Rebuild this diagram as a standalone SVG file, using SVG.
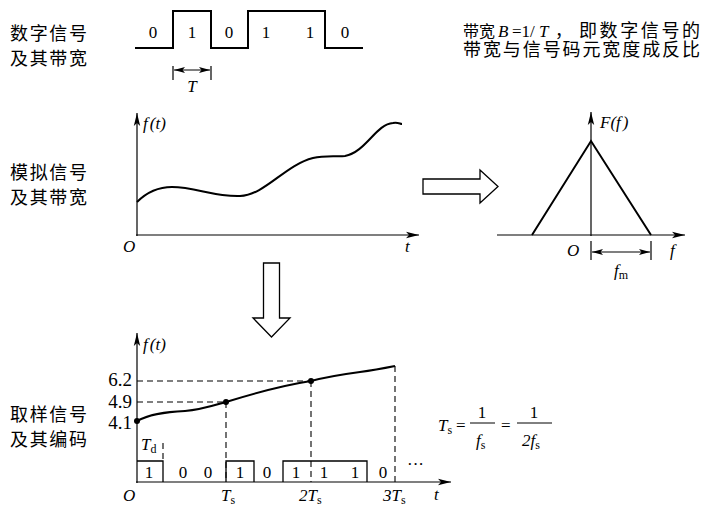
<svg xmlns="http://www.w3.org/2000/svg" width="703" height="507" viewBox="0 0 703 507">
<style>
.cjk{font-family:"Noto Sans CJK SC","Noto Sans",sans-serif;font-size:18px;fill:#000}
.rm{font-family:"Liberation Serif",serif;font-size:17px;fill:#000}
.it{font-family:"Liberation Serif",serif;font-size:17px;font-style:italic;fill:#000}
.sub{font-family:"Liberation Serif",serif;font-size:12px;font-style:normal}
.sig{fill:none;stroke:#000;stroke-width:2}
.ax{fill:none;stroke:#000;stroke-width:1.2}
.dash{fill:none;stroke:#000;stroke-width:1.1;stroke-dasharray:6,4}
.big{fill:#fff;stroke:#000;stroke-width:1.3}
</style>
<defs>
<marker id="ah" markerUnits="userSpaceOnUse" markerWidth="14" markerHeight="8" refX="13" refY="4" orient="auto">
<path d="M0,0.8 L13,4 L0,7.2 L3,4 z" fill="#000"/>
</marker>
<marker id="dh" markerUnits="userSpaceOnUse" markerWidth="12" markerHeight="8" refX="11" refY="4" orient="auto-start-reverse">
<path d="M0,1 L11,4 L0,7 L2.5,4 z" fill="#000"/>
</marker>
</defs>

<!-- Digital signal -->
<g id="digital">
<text class="cjk" x="10" y="40" textLength="77">数字信号</text>
<text class="cjk" x="10" y="65" textLength="77">及其带宽</text>
<path class="sig" d="M135,48 H173 V11 H211 V48 H248 V11 H325 V48 H363"/>
<text class="rm" x="153" y="38" text-anchor="middle">0</text>
<text class="rm" x="192" y="38" text-anchor="middle">1</text>
<text class="rm" x="229" y="38" text-anchor="middle">0</text>
<text class="rm" x="266" y="38" text-anchor="middle">1</text>
<text class="rm" x="310" y="38" text-anchor="middle">1</text>
<text class="rm" x="345" y="38" text-anchor="middle">0</text>
<path class="ax" d="M173,66 V80 M211,66 V80"/>
<line x1="174" y1="70" x2="210" y2="70" stroke="#000" stroke-width="1.2" marker-start="url(#dh)" marker-end="url(#dh)"/>
<text class="it" x="192" y="92" text-anchor="middle">T</text>
</g>

<g id="note">
<text class="cjk" x="463" y="37" style="font-size:16px">带宽</text>
<text class="it" x="498" y="37">B</text>
<text class="rm" x="512" y="37">=1/</text>
<text class="it" x="539" y="37">T</text>
<text class="cjk" x="555" y="37" style="font-size:17px">，</text>
<text class="cjk" x="579" y="37" textLength="121">即数字信号的</text>
<text class="cjk" x="463" y="56" textLength="237">带宽与信号码元宽度成反比</text>
</g>

<!-- Analog signal -->
<g id="analog">
<text class="cjk" x="10" y="179" textLength="77">模拟信号</text>
<text class="cjk" x="10" y="204" textLength="77">及其带宽</text>
<line class="ax" x1="137" y1="236" x2="137" y2="113" marker-end="url(#ah)"/>
<line class="ax" x1="136" y1="235" x2="419" y2="235" marker-end="url(#ah)"/>
<path class="sig" d="M137,202 C148,191 160,187 172,187 C195,187 215,197 240,196 C265,195 285,165 313,158 C326,155 338,157 345,156 C366,152 376,124 393,123 C398,122 400,124 402,124"/>
<text class="it" x="143" y="129">f<tspan class="rm" dx="2">(</tspan>t<tspan class="rm">)</tspan></text>
<text class="it" x="123" y="252">O</text>
<text class="it" x="405" y="252">t</text>
</g>

<g id="arrow-right">
<path class="big" d="M423,179 H480 V170 L498,186.5 L480,203 V194 H423 Z"/>
</g>

<!-- Spectrum -->
<g id="spectrum">
<line class="ax" x1="591" y1="236" x2="591" y2="112" marker-end="url(#ah)"/>
<line class="ax" x1="497" y1="235" x2="685" y2="235" marker-end="url(#ah)"/>
<path class="sig" d="M532,235 L591,141 L651,235"/>
<path class="ax" d="M591,241 V260 M651,241 V260"/>
<line x1="592" y1="252" x2="650" y2="252" stroke="#000" stroke-width="1.2" marker-start="url(#dh)" marker-end="url(#dh)"/>
<text class="it" x="600" y="128">F<tspan class="rm">(</tspan>f<tspan class="rm" dx="2">)</tspan></text>
<text class="it" x="567" y="256">O</text>
<text class="it" x="670" y="256">f</text>
<text class="it" x="614" y="276">f<tspan class="sub" dy="3">m</tspan></text>
</g>

<g id="arrow-down">
<path class="big" d="M263.5,263 H279.5 V318 H290 L271.5,337 L253,318 H263.5 Z"/>
</g>

<!-- Sampled signal -->
<g id="sampled">
<text class="cjk" x="10" y="421" textLength="77">取样信号</text>
<text class="cjk" x="10" y="446" textLength="77">及其编码</text>
<line class="ax" x1="137" y1="483" x2="137" y2="333" marker-end="url(#ah)"/>
<line class="ax" x1="136" y1="482" x2="451" y2="482" marker-end="url(#ah)"/>
<path class="dash" d="M137,381 H311 M137,402 H226 M226,402 V482 M311,381 V482 M395,366 V482 M163,443 V461"/>
<path class="sig" d="M137,421 C150,414 165,412 185,411 C200,410 212,406 226,402 C255,393 285,385 311,381 C330,376 345,374 360,372 C375,370 385,368 395,366"/>
<circle cx="137" cy="421" r="3" fill="#000"/>
<circle cx="226" cy="402" r="3" fill="#000"/>
<circle cx="311" cy="381" r="3" fill="#000"/>
<path class="ax" d="M137,461 H163 V482 M226,482 V461 H254 V482 M283,482 V461 H367 V482" style="stroke-width:1.3"/>
<text class="it" x="143" y="350">f<tspan class="rm" dx="2">(</tspan>t<tspan class="rm">)</tspan></text>
<text class="rm" x="132" y="386" text-anchor="end" style="font-size:19px">6.2</text>
<text class="rm" x="132" y="408" text-anchor="end" style="font-size:19px">4.9</text>
<text class="rm" x="132" y="429" text-anchor="end" style="font-size:19px">4.1</text>
<text class="it" x="141" y="450">T<tspan class="sub" dy="3">d</tspan></text>
<text class="rm" x="149" y="478" text-anchor="middle">1</text>
<text class="rm" x="183" y="478" text-anchor="middle">0</text>
<text class="rm" x="208" y="478" text-anchor="middle">0</text>
<text class="rm" x="240" y="478" text-anchor="middle">1</text>
<text class="rm" x="267" y="478" text-anchor="middle">0</text>
<text class="rm" x="296" y="478" text-anchor="middle">1</text>
<text class="rm" x="324" y="478" text-anchor="middle">1</text>
<text class="rm" x="355" y="478" text-anchor="middle">1</text>
<text class="rm" x="383" y="478" text-anchor="middle">0</text>
<text class="rm" x="407" y="470">···</text>
<text class="it" x="123" y="501">O</text>
<text class="it" x="221" y="501">T<tspan class="sub" dy="3">s</tspan></text>
<text class="it" x="299" y="501"><tspan class="rm">2</tspan>T<tspan class="sub" dy="3">s</tspan></text>
<text class="it" x="383" y="501"><tspan class="rm">3</tspan>T<tspan class="sub" dy="3">s</tspan></text>
<text class="it" x="434" y="500">t</text>
</g>

<g id="formula">
<text class="it" x="438" y="431">T<tspan class="sub" dy="3">s</tspan></text>
<text class="rm" x="456" y="431">=</text>
<line x1="470" y1="423" x2="495" y2="423" stroke="#000" stroke-width="1"/>
<text class="rm" x="482" y="418" text-anchor="middle">1</text>
<text class="it" x="476" y="446">f<tspan class="sub" dy="3">s</tspan></text>
<text class="rm" x="501" y="431">=</text>
<line x1="517" y1="423" x2="552" y2="423" stroke="#000" stroke-width="1"/>
<text class="rm" x="534" y="418" text-anchor="middle">1</text>
<text class="it" x="522" y="446"><tspan class="rm">2</tspan>f<tspan class="sub" dy="3">s</tspan></text>
</g>
</svg>
